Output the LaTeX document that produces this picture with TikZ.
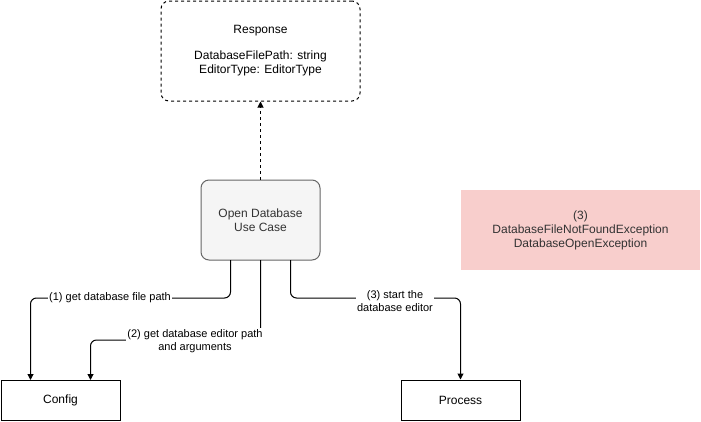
\documentclass[tikz,border=0pt]{standalone}
\usepackage{fontspec}
\setmainfont{Liberation Sans}
\usetikzlibrary{arrows.meta}
\definecolor{ucfill}{HTML}{F5F5F5}
\definecolor{ucdraw}{HTML}{666666}
\definecolor{uctext}{HTML}{333333}
\definecolor{errfill}{HTML}{F8CECC}
\tikzset{
  box/.style={draw=black, line width=1pt, inner sep=0pt, align=center, font=\fontsize{12}{14}\selectfont},
  conn/.style={line width=1pt, -{Triangle[length=6pt,width=6pt]}, rounded corners=6pt},
  lbl/.style={fill=white, inner sep=1pt, align=center, font=\fontsize{11}{13}\selectfont},
}
\begin{document}
\begin{tikzpicture}[x=1pt,y=-1pt]
\useasboundingbox (0,0) rectangle (701,421);
\node[box, dashed, rounded corners=8pt, minimum width=199pt, minimum height=100pt] (resp) at (260.5,51)
  {Response\\[12pt]DatabaseFilePath: string\\EditorType: EditorType};
\node[box, draw=ucdraw, fill=ucfill, text=uctext, rounded corners=8pt, minimum width=119pt, minimum height=80pt] (uc) at (260.5,220)
  {Open Database\\Use Case};
\node[box, draw=none, fill=errfill, text=uctext, minimum width=239pt, minimum height=80pt] (err) at (580.5,230)
  {(3)\\DatabaseFileNotFoundException\\DatabaseOpenException};
\node[box, minimum width=119pt, minimum height=40pt] (cfg) at (60.5,400) {Config};
\node[box, minimum width=119pt, minimum height=40pt] (proc) at (460.5,400) {Process};

\draw[conn, dashed] (uc.north) -- (resp.south);
\coordinate (u1) at (230.5,260);
\coordinate (u2) at (260.5,260);
\coordinate (u3) at (290.5,260);
\coordinate (c1) at (30.5,380);
\coordinate (c2) at (90.5,380);
\coordinate (b1) at (230.5,298);
\coordinate (b2) at (260.5,340);
\coordinate (b3) at (290.5,298);
\draw[conn] (u1) -- (b1) -| (c1);
\draw[conn] (u2) -- (b2) -| (c2);
\draw[conn] (u3) -- (b3) -| (proc.north);
\node[lbl] (l1) at (110,298) {(1) get database file path};
\node[lbl] (l2) at (195,341) {(2) get database editor path\\and arguments};
\node[lbl] (l3) at (395,301) {(3) start the\\database editor};
\end{tikzpicture}
\end{document}
